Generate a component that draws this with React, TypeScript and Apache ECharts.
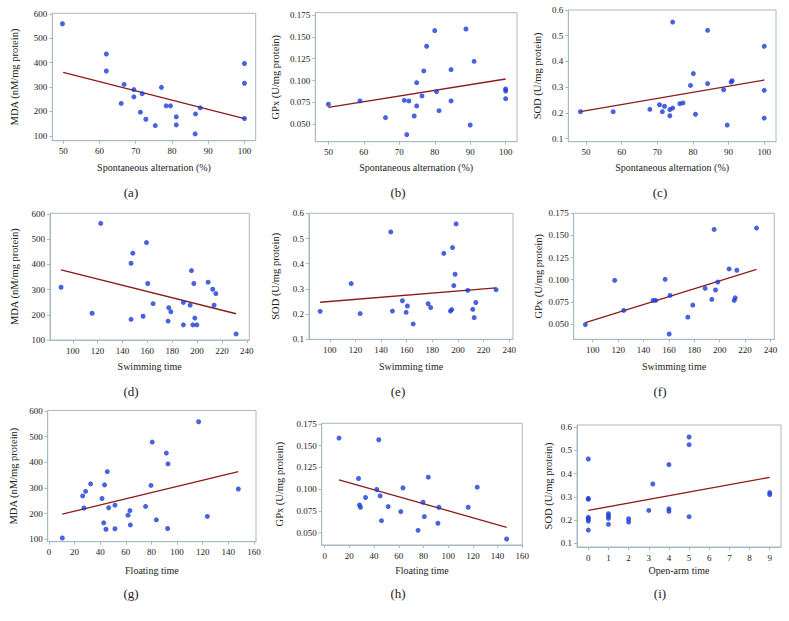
import React, { useEffect, useRef } from "react";
import * as echarts from "echarts";

// ---- data ----
const aX = [49.8, 61.9, 61.9, 66.8, 66.0, 69.5, 69.5, 71.8, 71.3, 72.8, 77.1, 75.4, 78.4, 79.6, 81.2, 81.2, 86.5, 86.4, 87.8, 100, 100, 100];
const aY = [560, 436, 366, 311, 233, 290, 260, 273, 197, 168, 299, 142, 223, 223, 178, 145, 190, 108, 215, 397, 316, 171];
const aFitX = [50, 100];
const aFitY = [360, 171];

const bX = [50.0, 58.9, 66.1, 71.4, 72.1, 72.7, 74.2, 74.9, 74.9, 76.4, 76.9, 77.7, 80.0, 80.5, 81.2, 84.6, 84.6, 88.8, 90.0, 91.1, 100, 100, 100];
const bY = [0.0729, 0.0767, 0.0576, 0.0774, 0.0382, 0.0767, 0.0595, 0.071, 0.0976, 0.0824, 0.111, 0.1392, 0.1571, 0.0873, 0.0656, 0.1125, 0.0767, 0.159, 0.0492, 0.122, 0.0904, 0.0881, 0.0793];
const bFitX = [50, 100];
const bFitY = [0.0694, 0.1018];

const cX = [48.4, 57.6, 67.9, 70.6, 71.4, 72.0, 73.5, 73.5, 74.3, 74.3, 76.3, 77.2, 79.3, 80.1, 80.7, 84.1, 84.1, 88.6, 89.6, 90.7, 91.0, 100, 100, 100];
const cY = [0.205, 0.205, 0.214, 0.232, 0.205, 0.226, 0.189, 0.213, 0.219, 0.553, 0.236, 0.239, 0.307, 0.353, 0.195, 0.314, 0.521, 0.29, 0.153, 0.32, 0.325, 0.459, 0.288, 0.18];
const cFitX = [48.4, 100];
const cFitY = [0.205, 0.328];

const dX = [90.6, 115.6, 122.5, 146.9, 148.3, 146.9, 156.6, 159.3, 160.3, 164.6, 176.7, 177.2, 178.9, 189.0, 189.0, 194.4, 195.5, 196.6, 197.4, 198.2, 199.8, 208.9, 212.6, 213.7, 215.1, 231.4];
const dY = [309, 206, 562, 404, 444, 182, 194, 486, 324, 244, 175, 228, 212, 249, 160, 238, 375, 160, 324, 187, 160, 329, 301, 238, 284, 124];
const dFitX = [90.6, 231.4];
const dFitY = [378, 204];

const eX = [92.5, 116.7, 123.7, 147.6, 148.9, 156.7, 159.6, 160.6, 165.1, 176.8, 178.8, 189.0, 194.2, 195.2, 195.8, 196.8, 197.8, 198.6, 207.7, 211.6, 212.7, 214.0, 229.8];
const eY = [0.211, 0.321, 0.202, 0.526, 0.212, 0.253, 0.207, 0.232, 0.161, 0.241, 0.226, 0.441, 0.212, 0.218, 0.464, 0.313, 0.358, 0.558, 0.294, 0.219, 0.186, 0.246, 0.297];
const eFitX = [92.5, 229.8];
const eFitY = [0.247, 0.304];

const fX = [94.2, 117.3, 124.4, 147.5, 149.6, 157.0, 160.2, 160.9, 174.9, 178.8, 188.5, 193.8, 195.6, 196.7, 198.5, 207.4, 211.4, 212.2, 213.5, 229.0];
const fY = [0.0492, 0.0992, 0.0652, 0.0765, 0.0765, 0.1004, 0.0386, 0.0822, 0.0576, 0.0712, 0.0902, 0.0777, 0.1568, 0.0883, 0.0973, 0.1121, 0.0765, 0.0795, 0.1106, 0.1583];
const fFitX = [94.2, 229.0];
const fFitY = [0.0515, 0.1117];

const gX = [10.4, 26.3, 27.3, 28.6, 32.5, 41.4, 42.7, 43.4, 44.5, 45.5, 46.6, 51.5, 51.5, 61.7, 63.2, 63.5, 75.4, 79.6, 80.6, 83.8, 91.6, 92.9, 92.6, 116.8, 123.6, 147.8];
const gY = [105, 269, 222, 287, 316, 259, 164, 312, 139, 364, 223, 233, 141, 194, 212, 156, 228, 310, 479, 176, 436, 394, 142, 558, 189, 296];
const gFitX = [10.4, 147.8];
const gFitY = [198, 364];

const hX = [11.6, 27.4, 28.2, 29.0, 33.1, 42.2, 43.8, 44.9, 46.0, 51.4, 61.6, 63.4, 75.6, 79.6, 80.7, 83.9, 91.7, 92.5, 116.2, 123.5, 147.3];
const hY = [0.1588, 0.1123, 0.0819, 0.0792, 0.0904, 0.0996, 0.1569, 0.0923, 0.0638, 0.08, 0.0742, 0.1015, 0.0527, 0.085, 0.0685, 0.1138, 0.0608, 0.0792, 0.0792, 0.1023, 0.0427];
const hFitX = [11.6, 147.3];
const hFitY = [0.1108, 0.0562];

const iX = [0, 0, 0, 0, 0, 0, 0, 1, 1, 1, 1, 2, 2, 3, 3.2, 4, 4, 4, 5, 5, 5, 9, 9];
const iY = [0.463, 0.293, 0.289, 0.211, 0.204, 0.195, 0.156, 0.227, 0.217, 0.207, 0.181, 0.205, 0.191, 0.241, 0.355, 0.439, 0.248, 0.237, 0.558, 0.525, 0.214, 0.318, 0.309];
const iFitX = [0, 9];
const iFitY = [0.241, 0.384];

// tick labels
const altTicks = [50, 60, 70, 80, 90, 100];
const swimTicks = [100, 120, 140, 160, 180, 200, 220, 240];
const floatTicks = [0, 20, 40, 60, 80, 100, 120, 140, 160];
const openTicks = [0, 1, 2, 3, 4, 5, 6, 7, 8, 9];
const mdaTicks = [100, 200, 300, 400, 500, 600];
const gpxTicks = [0.05, 0.075, 0.1, 0.125, 0.15, 0.175];
const sodTicks = [0.1, 0.2, 0.3, 0.4, 0.5, 0.6];

const captions = ["(a)", "(b)", "(c)", "(d)", "(e)", "(f)", "(g)", "(h)", "(i)"];
const xTitles = [
  "Spontaneous alternation (%)", "Spontaneous alternation (%)", "Spontaneous alternation (%)",
  "Swimming time", "Swimming time", "Swimming time",
  "Floating time", "Floating time", "Open-arm time",
];
const yTitles = [
  "MDA (nM/mg protein)", "GPx (U/mg protein)", "SOD (U/mg protein)",
  "MDA (nM/mg protein)", "SOD (U/mg protein)", "GPx (U/mg protein)",
  "MDA (nM/mg protein)", "GPx (U/mg protein)", "SOD (U/mg protein)",
];

// ---- layout / style ----
const FONT = "'Liberation Serif', 'DejaVu Serif', serif";
const FRAME = "#a9b9c2";
const DOT = "#1a3cd4";
const FIT = "#8c1c1c";
const TXT = "#222";

type Panel = {
  xs: number[]; ys: number[]; fx: number[]; fy: number[];
  xt: number[]; yt: number[]; ydec: number;
  rect: [number, number, number, number];
  xr: [number, number]; yr: [number, number];
  xGap: number; yGap: number;
};

const panels: Panel[] = [
  { xs: aX, ys: aY, fx: aFitX, fy: aFitY, xt: altTicks, yt: mdaTicks, ydec: 0, rect: [52.3, 13.3, 203.4, 127.4], xr: [47.0, 103.1], yr: [80, 603], xGap: 22, yGap: 32 },
  { xs: bX, ys: bY, fx: bFitX, fy: bFitY, xt: altTicks, yt: gpxTicks, ydec: 3, rect: [315.3, 12.7, 201.7, 129], xr: [46.3, 103.2], yr: [0.0301, 0.1776], xGap: 21, yGap: 34 },
  { xs: cX, ys: cY, fx: cFitX, fy: cFitY, xt: altTicks, yt: sodTicks, ydec: 1, rect: [568.3, 10, 207.7, 131.7], xr: [45.0, 103.3], yr: [0.0883, 0.6], xGap: 21, yGap: 25.6 },
  { xs: dX, ys: dY, fx: dFitX, fy: dFitY, xt: swimTicks, yt: mdaTicks, ydec: 0, rect: [50, 213.3, 199.3, 126.7], xr: [81.7, 242], yr: [100, 602], xGap: 21.7, yGap: 30 },
  { xs: eX, ys: eY, fx: eFitX, fy: eFitY, xt: swimTicks, yt: sodTicks, ydec: 1, rect: [309, 213.3, 204, 126], xr: [83.8, 243], yr: [0.1, 0.6], xGap: 22.4, yGap: 27.7 },
  { xs: fX, ys: fY, fx: fFitX, fy: fFitY, xt: swimTicks, yt: gpxTicks, ydec: 3, rect: [573.7, 213.3, 200.6, 126], xr: [85, 243], yr: [0.0326, 0.175], xGap: 22.4, yGap: 29.4 },
  { xs: gX, ys: gY, fx: gFitX, fy: gFitY, xt: floatTicks, yt: mdaTicks, ydec: 0, rect: [47.7, 410.5, 208.3, 131.2], xr: [-1, 161.6], yr: [90.6, 602], xGap: 23.3, yGap: 28.7 },
  { xs: hX, ys: hY, fx: hFitX, fy: hFitY, xt: floatTicks, yt: gpxTicks, ydec: 3, rect: [321.7, 423.3, 200.6, 121.7], xr: [-2.4, 160], yr: [0.0358, 0.1758], xGap: 20, yGap: 36.4 },
  { xs: iX, ys: iY, fx: iFitX, fy: iFitY, xt: openTicks, yt: sodTicks, ydec: 1, rect: [577, 425, 204, 122], xr: [-0.56, 9.56], yr: [0.083, 0.61], xGap: 18, yGap: 22.7 },
];

const captionX = [131, 398, 660];
const captionY = [192, 391, 593];

function buildOption() {
  const labelStyle = { color: TXT, fontFamily: FONT, fontSize: 9 };
  const nameStyle = { color: TXT, fontFamily: FONT, fontSize: 10 };
  const grid = panels.map((p) => ({
    left: p.rect[0], top: p.rect[1], width: p.rect[2], height: p.rect[3],
    show: true, borderColor: FRAME, borderWidth: 1, backgroundColor: "transparent",
    containLabel: false,
  }));
  const xAxis = panels.map((p, i) => ({
    gridIndex: i, type: "value", min: p.xr[0], max: p.xr[1],
    splitLine: { show: false },
    axisLine: { show: true, onZero: false, lineStyle: { color: FRAME, width: 1 } },
    axisTick: { show: true, customValues: p.xt, length: 3, lineStyle: { color: FRAME } },
    axisLabel: { customValues: p.xt, margin: 6, ...labelStyle, formatter: (v: number) => String(v) },
    name: xTitles[i], nameLocation: "middle", nameGap: p.xGap, nameTextStyle: nameStyle,
  }));
  const yAxis = panels.map((p, i) => ({
    gridIndex: i, type: "value", min: p.yr[0], max: p.yr[1],
    splitLine: { show: false },
    axisLine: { show: true, onZero: false, lineStyle: { color: FRAME, width: 1 } },
    axisTick: { show: true, customValues: p.yt, length: 3, lineStyle: { color: FRAME } },
    axisLabel: { customValues: p.yt, margin: 5, ...labelStyle, formatter: (v: number) => v.toFixed(p.ydec) },
    name: yTitles[i], nameLocation: "middle", nameGap: p.yGap, nameTextStyle: { ...nameStyle, fontSize: 10.5 },
  }));
  const series: any[] = [];
  panels.forEach((p, i) => {
    series.push({
      type: "line", xAxisIndex: i, yAxisIndex: i,
      data: p.fx.map((x, k) => [x, p.fy[k]]),
      showSymbol: false, symbol: "none",
      lineStyle: { color: FIT, width: 1.3 }, z: 2,
    });
    series.push({
      type: "scatter", xAxisIndex: i, yAxisIndex: i,
      data: p.xs.map((x, k) => [x, p.ys[k]]),
      symbolSize: 5, itemStyle: { color: DOT }, z: 3,
    });
  });
  const graphic = captions.map((c, i) => ({
    type: "text",
    x: captionX[i % 3], y: captionY[Math.floor(i / 3)],
    style: { text: c, fill: TXT, font: `13px ${FONT}`, align: "center", verticalAlign: "middle" },
  }));
  return { animation: false, backgroundColor: "#fff", grid, xAxis, yAxis, series, graphic };
}

export default function App() {
  const ref = useRef<HTMLDivElement>(null);
  useEffect(() => {
    if (!ref.current) return;
    const chart = echarts.init(ref.current, undefined, { renderer: "svg" });
    chart.setOption(buildOption() as any);
    return () => chart.dispose();
  }, []);
  return (
    <div
      ref={ref}
      style={{ position: "fixed", left: 0, top: 0, width: 789, height: 621, background: "#fff" }}
    />
  );
}
